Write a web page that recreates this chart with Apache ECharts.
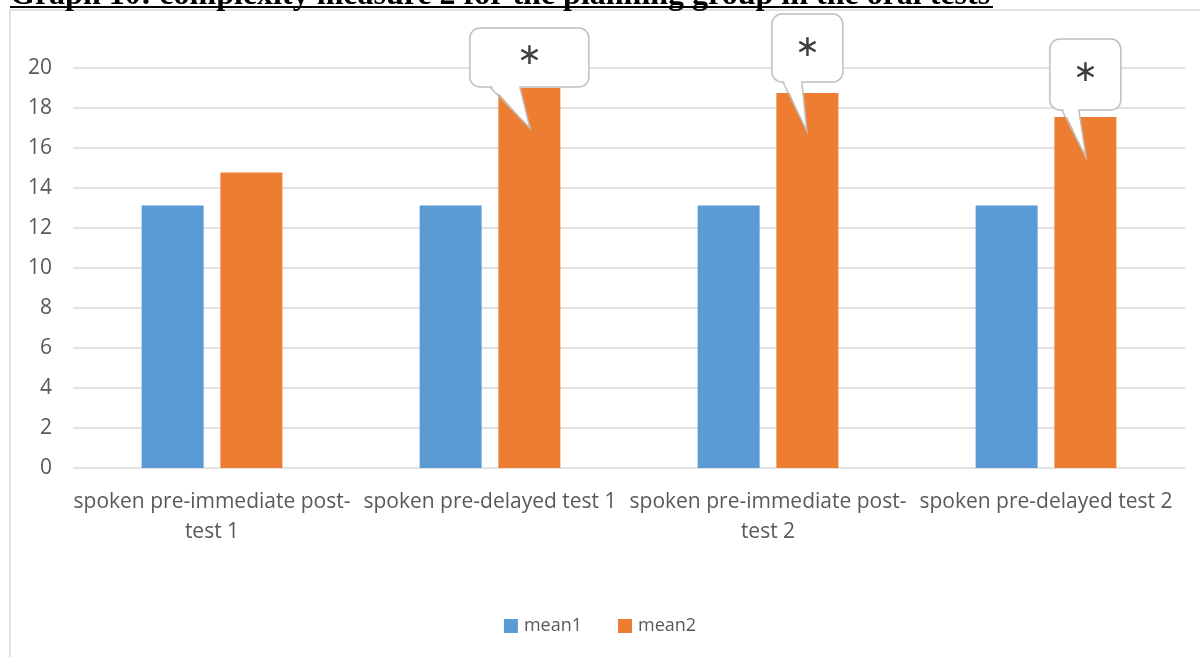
<!DOCTYPE html>
<html>
<head>
<meta charset="utf-8">
<script src="https://cdn.jsdelivr.net/npm/echarts@6/dist/echarts.min.js"></script>
<style>html,body{margin:0;padding:0;background:#fff;}#c{width:1200px;height:657px;}</style>
</head>
<body>
<div id="c"></div>
<script>
const titleText = 'Graph 10: complexity measure 2 for the planning group in the oral tests';
const categories = ['spoken pre-immediate post-test 1', 'spoken pre-delayed test 1', 'spoken pre-immediate post-test 2', 'spoken pre-delayed test 2'];
const mean1 = [13.12, 13.12, 13.12, 13.12];
const mean2 = [14.77, 19.0, 18.75, 17.55];
const yTicks = [0, 2, 4, 6, 8, 10, 12, 14, 16, 18, 20];
const starred = [1, 2, 3];

const FONT = '"Open Sans", sans-serif';
const chart = echarts.init(document.getElementById('c'), null, {renderer: 'canvas'});

const option = {
  animation: false,
  backgroundColor: '#fff',
  grid: {left: 73, right: 15, top: 68, bottom: 189, containLabel: false},
  legend: {
    data: ['mean1', 'mean2'], bottom: 17, left: 'center',
    itemWidth: 14, itemHeight: 14, itemGap: 36, icon: 'rect',
    textStyle: {fontFamily: FONT, fontSize: 18, color: '#595959', padding: [0, 0, 0, 1]}
  },
  xAxis: {
    type: 'category', data: categories,
    axisLine: {show: false}, axisTick: {show: false},
    axisLabel: {
      interval: 0, margin: 19, fontFamily: FONT, fontSize: 21, color: '#595959', lineHeight: 30,
      formatter: v => v.replace('post-test', 'post-\ntest')
    }
  },
  yAxis: {
    type: 'value', min: yTicks[0], max: yTicks[yTicks.length - 1], interval: yTicks[1] - yTicks[0],
    axisLine: {show: false}, axisTick: {show: false},
    axisLabel: {margin: 21, fontFamily: FONT, fontSize: 21, color: '#595959'},
    splitLine: {lineStyle: {color: '#d9d9d9', width: 1.5}}
  },
  series: [
    {name: 'mean1', type: 'bar', data: mean1, barWidth: 62, barGap: '27%', itemStyle: {color: '#5b9bd5'}},
    {name: 'mean2', type: 'bar', data: mean2, barWidth: 62, barGap: '27%', itemStyle: {color: '#ed7d31'}}
  ]
};
chart.setOption(option);

// callout styling relative to bar top / bar centre
const calloutStyle = {
  1: {w: 119, h: 59, gap: 1, bl: -39.5, br: -9.5, tdx: 0.5, drop: 40, sy: 28},
  2: {w: 71, h: 68, gap: 11, bl: -24.5, br: -5.5, tdx: -0.5, drop: 38, sy: 34},
  3: {w: 71, h: 71, gap: 7, bl: -23.5, br: -6.5, tdx: 0.5, drop: 40, sy: 34}
};

function barLayout(i) {
  try {
    const data = chart.getModel().getSeriesByIndex(1).getData();
    const l = data.getItemLayout(i);
    return {cx: l.x + l.width / 2, top: Math.min(l.y, l.y + l.height)};
  } catch (e) {
    const p = chart.convertToPixel({seriesIndex: 1}, [i, mean2[i]]);
    return {cx: p[0] + 39.5, top: p[1]};
  }
}

const graphics = [
  {type: 'rect', shape: {x: 10, y: 10, width: 1220, height: 700}, style: {fill: 'none', stroke: '#d9d9d9', lineWidth: 1.5}, z: 0, silent: true},
  {type: 'text', x: 10, y: 12, style: {text: titleText, font: 'bold 32px "Liberation Serif", serif', fill: '#000', textVerticalAlign: 'bottom'}, z: 10},
  {type: 'rect', shape: {x: 10, y: 6, width: 983, height: 2}, style: {fill: '#000'}, z: 10}
];

starred.forEach(i => {
  const s = calloutStyle[i];
  const b = barLayout(i);
  const x0 = b.cx - s.w / 2;
  const y1 = b.top - s.gap, y0 = y1 - s.h;
  const tipX = b.cx + s.tdx, tipY = b.top + s.drop;
  const bl = b.cx + s.bl, br = b.cx + s.br;
  graphics.push({type: 'rect', shape: {x: x0, y: y0, width: s.w, height: s.h, r: 10}, style: {fill: '#fff', stroke: '#bfbfbf', lineWidth: 1.5}, z: 100});
  graphics.push({type: 'polygon', shape: {points: [[bl + 0.8, y1 - 2], [br - 0.8, y1 - 2], [tipX, tipY]]}, style: {fill: '#fff'}, z: 101});
  graphics.push({type: 'polyline', shape: {points: [[bl, y1], [tipX, tipY], [br, y1]]}, style: {stroke: '#bfbfbf', lineWidth: 1.5, fill: null}, z: 102});
  graphics.push({type: 'text', x: b.cx, y: y0 + s.sy, style: {text: '∗', font: '30px "DejaVu Sans", sans-serif', fill: '#404040', textAlign: 'center', textVerticalAlign: 'middle'}, z: 103});
});

chart.setOption({graphic: graphics});
</script>
</body>
</html>
